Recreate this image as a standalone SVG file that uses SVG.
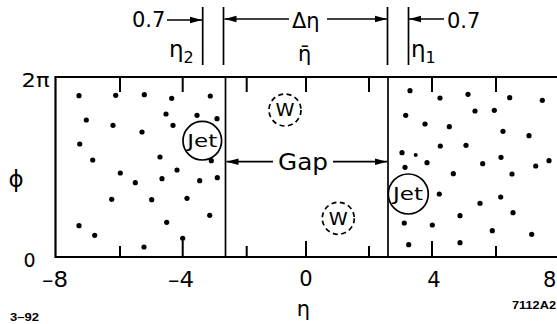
<svg xmlns="http://www.w3.org/2000/svg" width="557" height="324" viewBox="0 0 557 324">
<style>
  text { font-family: "DejaVu Sans", "Liberation Sans", Arial, sans-serif; fill: #000; }
  .lbl { font-size: 21px; }
  .gk { font-size: 23px; }
  .sub { font-size: 16px; }
  .small { font-size: 10px; font-weight: bold; font-family: "Liberation Sans", Arial, sans-serif; }
  .ln { stroke: #000; stroke-width: 1.7; fill: none; }
  .box { stroke: #000; stroke-width: 2.2; fill: none; }
  .tick { stroke: #000; stroke-width: 2; }
  .dot { fill: #000; }
  .jet { stroke: #000; stroke-width: 1.7; fill: #fff; }
  .w { stroke: #000; stroke-width: 1.7; fill: none; stroke-dasharray: 5 3.5; }
</style>
<defs>
  <marker id="ah" markerWidth="13" markerHeight="8" refX="12" refY="4" orient="auto" markerUnits="userSpaceOnUse">
    <path d="M0,0.7 L12,4 L0,7.3 Z" fill="#000"/>
  </marker>
</defs>
<rect width="557" height="324" fill="#fff"/>

<g id="plot-frame">
  <path class="box" d="M557,77 H55.5 V257 H557"/>
  <line class="ln" x1="225.5" y1="77" x2="225.5" y2="257"/>
  <line class="ln" x1="388" y1="77" x2="388" y2="257"/>
  <g class="tick">
    <line x1="120" y1="77" x2="120" y2="92"/>
    <line x1="182.7" y1="77" x2="182.7" y2="92"/>
    <line x1="246.7" y1="77" x2="246.7" y2="92"/>
    <line x1="306" y1="77" x2="306" y2="92"/>
    <line x1="369" y1="77" x2="369" y2="92"/>
    <line x1="432" y1="77" x2="432" y2="92"/>
    <line x1="496" y1="77" x2="496" y2="92"/>
    <line x1="120" y1="257" x2="120" y2="246"/>
    <line x1="182.7" y1="257" x2="182.7" y2="241"/>
    <line x1="246.7" y1="257" x2="246.7" y2="246"/>
    <line x1="306" y1="257" x2="306" y2="241"/>
    <line x1="369" y1="257" x2="369" y2="246"/>
    <line x1="432" y1="257" x2="432" y2="241"/>
    <line x1="496" y1="257" x2="496" y2="246"/>
  </g>
</g>

<g id="axis-labels">
  <text x="21.5" y="86.5" font-size="20" textLength="28" lengthAdjust="spacingAndGlyphs">2π</text>
  <text x="16" y="187" class="gk" text-anchor="middle">ϕ</text>
  <text x="23.5" y="266.7" font-size="19">0</text>
  <text x="55" y="287" class="lbl" text-anchor="middle" textLength="26" lengthAdjust="spacingAndGlyphs">–8</text>
  <text x="181" y="287" class="lbl" text-anchor="middle" textLength="26" lengthAdjust="spacingAndGlyphs">–4</text>
  <text x="306" y="286" class="lbl" text-anchor="middle">0</text>
  <text x="434" y="287" class="lbl" text-anchor="middle">4</text>
  <text x="543" y="287" class="lbl">8</text>
  <text x="303.5" y="316" font-size="21" text-anchor="middle">η</text>
  <text x="10" y="321" class="small" textLength="29" lengthAdjust="spacingAndGlyphs">3–92</text>
  <text x="512" y="309" class="small" textLength="44" lengthAdjust="spacingAndGlyphs">7112A2</text>
</g>

<g id="connectors">
  <line class="ln" x1="167" y1="20" x2="202" y2="20" marker-end="url(#ah)"/>
  <line class="ln" x1="289" y1="19" x2="224.5" y2="19" marker-end="url(#ah)"/>
  <line class="ln" x1="327" y1="19" x2="387" y2="19" marker-end="url(#ah)"/>
  <line class="ln" x1="444" y1="19" x2="409" y2="19" marker-end="url(#ah)"/>
  <line class="ln" x1="273" y1="161.7" x2="226.5" y2="161.7" marker-end="url(#ah)"/>
  <line class="ln" x1="333" y1="161.7" x2="387" y2="161.7" marker-end="url(#ah)"/>
</g>

<g id="top-annotations">
  <line class="ln" x1="202.7" y1="7" x2="202.7" y2="65"/>
  <line class="ln" x1="223.5" y1="7" x2="223.5" y2="65"/>
  <line class="ln" x1="387.5" y1="7" x2="387.5" y2="65"/>
  <line class="ln" x1="408.5" y1="7" x2="408.5" y2="65"/>
  <text x="132" y="27" class="lbl">0.7</text>
  <text x="447" y="28" class="lbl">0.7</text>
  <text x="292" y="28" class="lbl" font-size="22">Δη</text>
  <text x="169" y="57" class="gk">η<tspan class="sub" dy="6">2</tspan></text>
  <text x="411" y="57" class="gk">η<tspan class="sub" dy="6">1</tspan></text>
  <text x="298" y="61" style="font-family:'DejaVu Sans',sans-serif;font-size:21px">η̄</text>
</g>

<g id="gap-label">
  <text x="303" y="170" font-size="23" text-anchor="middle" textLength="50" lengthAdjust="spacingAndGlyphs">Gap</text>
</g>

<g id="particles-left" class="dot">
  <circle cx="79" cy="95.7" r="2.6"/><circle cx="115.7" cy="95.3" r="2.6"/><circle cx="144.3" cy="94.7" r="2.6"/>
  <circle cx="171.7" cy="98.3" r="2.6"/><circle cx="210.3" cy="96" r="2.6"/><circle cx="86.3" cy="120" r="2.6"/>
  <circle cx="113" cy="125.3" r="2.6"/><circle cx="142" cy="132" r="2.6"/><circle cx="166" cy="114" r="2.6"/>
  <circle cx="173" cy="125.3" r="2.6"/><circle cx="197" cy="115.3" r="2.6"/><circle cx="217" cy="118.7" r="2.6"/>
  <circle cx="79.7" cy="144" r="2.6"/><circle cx="92.7" cy="160" r="2.6"/><circle cx="160" cy="157" r="2.6"/>
  <circle cx="211.3" cy="160.7" r="2.6"/><circle cx="120.3" cy="173" r="2.6"/><circle cx="135.3" cy="182.7" r="2.6"/>
  <circle cx="162" cy="178.7" r="2.6"/><circle cx="177" cy="170" r="2.6"/><circle cx="199.7" cy="180.7" r="2.6"/>
  <circle cx="217.3" cy="177.7" r="2.6"/><circle cx="111.7" cy="199.3" r="2.6"/><circle cx="151.7" cy="199.7" r="2.6"/>
  <circle cx="187" cy="198.3" r="2.6"/><circle cx="209.7" cy="215.3" r="2.6"/><circle cx="79" cy="225.7" r="2.6"/>
  <circle cx="166.7" cy="222.3" r="2.6"/><circle cx="94.7" cy="235.3" r="2.6"/><circle cx="182.7" cy="238.3" r="2.6"/>
  <circle cx="144" cy="247" r="2.6"/>
</g>

<g id="particles-right" class="dot">
  <circle cx="410" cy="90.7" r="2.6"/><circle cx="440" cy="98" r="2.6"/><circle cx="468" cy="94.3" r="2.6"/>
  <circle cx="509.7" cy="97.7" r="2.6"/><circle cx="542.3" cy="100.3" r="2.6"/><circle cx="405.7" cy="115.3" r="2.6"/>
  <circle cx="475" cy="111" r="2.6"/><circle cx="494.3" cy="110.3" r="2.6"/><circle cx="425" cy="124" r="2.6"/>
  <circle cx="449.3" cy="126.7" r="2.6"/><circle cx="503" cy="131.3" r="2.6"/><circle cx="529" cy="135.7" r="2.6"/>
  <circle cx="440.3" cy="146" r="2.6"/><circle cx="466" cy="145.3" r="2.6"/><circle cx="402" cy="152.7" r="2.6"/>
  <circle cx="415.7" cy="155" r="2"/><circle cx="501" cy="157.3" r="2.6"/><circle cx="549" cy="160.7" r="2.6"/>
  <circle cx="405" cy="167.3" r="2.6"/><circle cx="427" cy="162.7" r="2.6"/><circle cx="482.7" cy="163.7" r="2.6"/>
  <circle cx="535.7" cy="166" r="2.6"/><circle cx="453.3" cy="173.7" r="2.6"/><circle cx="512" cy="174" r="2.6"/>
  <circle cx="439.3" cy="194" r="2.6"/><circle cx="500.7" cy="197" r="2.6"/><circle cx="480" cy="203.3" r="2.6"/>
  <circle cx="513" cy="212.7" r="2.6"/><circle cx="460" cy="215.7" r="2.6"/><circle cx="404.3" cy="223" r="2.6"/>
  <circle cx="432.3" cy="225" r="2.6"/><circle cx="492.3" cy="230.7" r="2.6"/><circle cx="531.7" cy="234.3" r="2.6"/>
  <circle cx="408.7" cy="244.7" r="2.6"/><circle cx="460" cy="242.7" r="2.6"/>
</g>

<g id="jet-left">
  <circle class="jet" cx="202.3" cy="140.7" r="19.3"/>
  <text x="202.3" y="147" font-size="17" text-anchor="middle" textLength="30" lengthAdjust="spacingAndGlyphs">Jet</text>
</g>
<g id="jet-right">
  <circle class="jet" cx="408.3" cy="194" r="20"/>
  <text x="408" y="200.3" font-size="17" text-anchor="middle" textLength="30" lengthAdjust="spacingAndGlyphs">Jet</text>
</g>
<g id="w-top">
  <circle class="w" cx="285" cy="110" r="16"/>
  <text x="285" y="116.3" font-size="17" text-anchor="middle" textLength="19" lengthAdjust="spacingAndGlyphs">W</text>
</g>
<g id="w-bottom">
  <circle class="w" cx="338.3" cy="218.3" r="16"/>
  <text x="338.3" y="224.6" font-size="17" text-anchor="middle" textLength="19" lengthAdjust="spacingAndGlyphs">W</text>
</g>
</svg>
